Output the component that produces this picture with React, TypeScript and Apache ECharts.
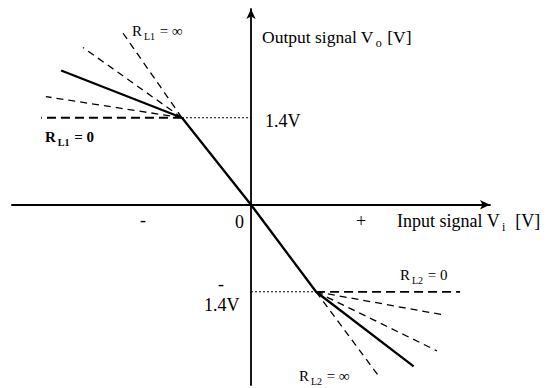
import React, { useEffect, useRef } from "react";
import * as echarts from "echarts";

// Axis extents (input V in arbitrary units, output in volts)
const xRange = [-3.6, 3.6];
const yRange = [-2.9, 3.15];

// Breakpoints of the transfer characteristic
const breakUpper = [-1.04, 1.4];
const breakLower = [0.98, -1.4];

// Main characteristic (solid)
const mainCurve = [
  [-2.86, 2.16],
  [-1.04, 1.4],
  [0, 0],
  [0.98, -1.4],
  [2.45, -2.6],
];

// Far ends of the load lines (upper-left family, RL1 = ∞ ... RL1 = 0)
const upperEnds = [
  [-1.94, 2.78],
  [-2.53, 2.53],
  [-3.09, 1.74],
  [-3.16, 1.4],
];
// Far ends of the load lines (lower-right family, RL2 = 0 ... RL2 = ∞)
const lowerEnds = [
  [3.15, -1.4],
  [2.89, -1.77],
  [2.8, -2.35],
  [1.94, -2.78],
];

const SERIF = "'Liberation Serif', 'DejaVu Serif', serif";

export default function App() {
  const ref = useRef<HTMLDivElement>(null);
  useEffect(() => {
    if (!ref.current) return;
    const chart = echarts.init(ref.current, null, { renderer: "svg" });

    const dashed = (end: number[], isFlat: boolean, start: number[]) => ({
      type: "line",
      data: [start, end],
      symbol: "none",
      silent: true,
      lineStyle: {
        color: "#000",
        width: isFlat ? 1.8 : 1.3,
        type: isFlat ? [9, 5] : [7, 5],
      },
    });

    const series: any[] = [
      {
        type: "line",
        data: mainCurve,
        symbol: "none",
        lineStyle: { color: "#000", width: 2.3 },
        z: 5,
      },
      {
        type: "line",
        data: [breakUpper, [0, breakUpper[1]]],
        symbol: "none",
        lineStyle: { color: "#000", width: 1, type: [2, 2] },
      },
      {
        type: "line",
        data: [[0, breakLower[1]], breakLower],
        symbol: "none",
        lineStyle: { color: "#000", width: 1, type: [2, 2] },
      },
      ...upperEnds.map((e, i) => dashed(e, i === upperEnds.length - 1, breakUpper)),
      ...lowerEnds.map((e, i) => dashed(e, i === 0, breakLower)),
    ];

    const rich = (size: number, bold = false) => ({
      r: { fontFamily: SERIF, fontSize: size, fontWeight: bold ? "bold" : "normal", fill: "#000" },
      s: {
        fontFamily: SERIF,
        fontSize: Math.round(size * 0.66),
        fontWeight: bold ? "bold" : "normal",
        fill: "#000",
        padding: [11, 1, 0, 2],
      },
    });
    const mkRich = (x: number, y: number, text: string, size: number, bold = false) => ({
      type: "text",
      x,
      y,
      style: {
        text,
        fill: "#000",
        fontFamily: SERIF,
        fontSize: size,
        fontWeight: bold ? "bold" : "normal",
        verticalAlign: "middle",
        rich: rich(size, bold),
      },
    });
    const mkText = (x: number, y: number, text: string, size: number) => ({
      type: "text",
      x,
      y,
      style: {
        text,
        fill: "#000",
        fontFamily: SERIF,
        fontSize: size,
        verticalAlign: "middle",
      },
    });

    chart.setOption({
      animation: false,
      backgroundColor: "#fff",
      grid: { left: 12, right: 57, top: 9, bottom: 3 },
      xAxis: {
        type: "value",
        min: xRange[0],
        max: xRange[1],
        axisLine: {
          onZero: true,
          lineStyle: { color: "#000", width: 1.8 },
          symbol: ["none", "arrow"],
          symbolSize: [7, 10],
        },
        axisTick: { show: false },
        axisLabel: { show: false },
        splitLine: { show: false },
      },
      yAxis: {
        type: "value",
        min: yRange[0],
        max: yRange[1],
        axisLine: {
          onZero: true,
          lineStyle: { color: "#000", width: 1.8 },
          symbol: ["none", "arrow"],
          symbolSize: [7, 10],
        },
        axisTick: { show: false },
        axisLabel: { show: false },
        splitLine: { show: false },
      },
      series,
      graphic: [
        mkRich(132, 31, "{r|R}{s|L1}{r| = ∞}", 15),
        mkRich(45, 137, "{r|R}{s|L1}{r| = 0}", 15, true),
        mkRich(262, 37, "{r|Output signal V}{s|o}{r| [V]}", 17.5),
        mkText(265, 121, "1.4V", 18),
        mkText(140, 220, "-", 18),
        mkText(235, 222, "0", 18),
        mkText(356, 221, "+", 18),
        mkRich(397, 221, "{r|Input signal V}{s|i}{r|  [V]}", 18),
        mkText(218, 284, "-", 18),
        mkText(204, 305, "1.4V", 18),
        mkRich(400, 275, "{r|R}{s|L2}{r| = 0}", 15),
        mkRich(299, 376, "{r|R}{s|L2}{r| = ∞}", 15),
      ],
    });
    return () => chart.dispose();
  }, []);
  return <div ref={ref} style={{ width: 547, height: 388, position: "absolute", left: 0, top: 0 }} />;
}
